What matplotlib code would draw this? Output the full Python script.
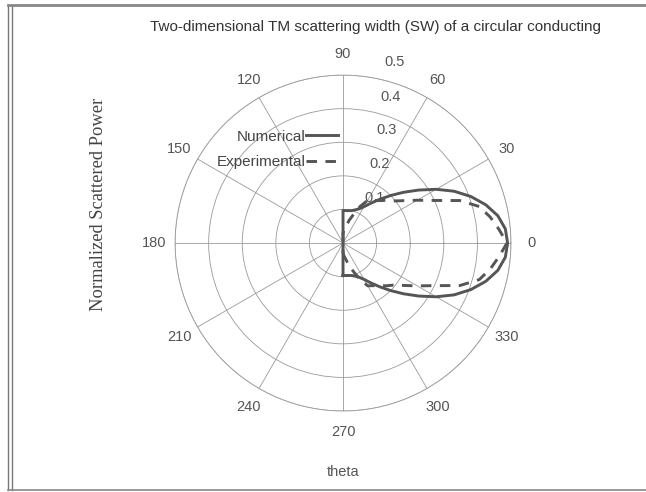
import numpy as np
import matplotlib
matplotlib.use("Agg")
import matplotlib.pyplot as plt
from matplotlib.lines import Line2D

# angles (deg) and normalized scattered power
theta_deg = [-90, -85, -80, -75, -70, -65, -60, -55, -50, -45, -40, -35, -30,
             -25, -20, -15, -10, -5, 0, 5, 10, 15, 20, 25, 30, 35, 40, 45,
             50, 55, 60, 65, 70, 75, 80, 85, 90]
numerical = [0.097, 0.097, 0.098, 0.100, 0.105, 0.112, 0.125, 0.145, 0.170,
             0.200, 0.235, 0.275, 0.320, 0.365, 0.405, 0.440, 0.468, 0.485,
             0.490, 0.485, 0.468, 0.440, 0.405, 0.365, 0.320, 0.275, 0.235,
             0.200, 0.170, 0.145, 0.125, 0.112, 0.105, 0.100, 0.098, 0.097,
             0.097]
experimental = [0.030, 0.040, 0.050, 0.070, 0.090, 0.120, 0.147, 0.155, 0.165,
                0.180, 0.195, 0.220, 0.255, 0.300, 0.370, 0.420, 0.445, 0.466,
                0.488, 0.466, 0.445, 0.420, 0.370, 0.300, 0.255, 0.220, 0.195,
                0.180, 0.165, 0.155, 0.147, 0.120, 0.090, 0.070, 0.050, 0.040,
                0.030]
r_ticks = [0.1, 0.2, 0.3, 0.4, 0.5]
angle_ticks = [0, 30, 60, 90, 120, 150, 180, 210, 240, 270, 300, 330]

# where the radial labels sit (theta deg, r) - layout only
r_label_pos = [(55, 0.164), (65, 0.259), (68.7, 0.36), (72, 0.458), (74, 0.56)]

grid_col = "#9a9a9a"
curve_col = "#555555"
text_col = "#555555"

fig = plt.figure(figsize=(6.46, 4.92), dpi=100)
ax = fig.add_axes([0.271, 0.1645, 0.52, 0.683], projection="polar")

th = np.deg2rad(theta_deg)
# close the curves back to the first point (passes through the origin)
th_c = np.append(th, th[0])
num_c = np.append(numerical, numerical[0])
exp_c = np.append(experimental, experimental[0])

ax.plot(th_c, num_c, color=curve_col, lw=2.1, label="Numerical",
        solid_joinstyle="round")
ax.plot(th_c, exp_c, color=curve_col, lw=2.1, dashes=(3.6, 2.9),
        label="Experimental")

ax.set_ylim(0, 0.5)
ax.set_yticks(r_ticks)
ax.set_yticklabels([])
ax.set_xticks(np.deg2rad(angle_ticks))
ax.set_xticklabels([])
ax.grid(True, color=grid_col, lw=0.6)
ax.spines["polar"].set_color(grid_col)
ax.spines["polar"].set_linewidth(0.6)
ax.tick_params(length=0)

# angle labels outside the outer ring
for a in angle_ticks:
    ax.text(np.deg2rad(a), 0.562, str(a), ha="center", va="center",
            fontsize=10.5, color=text_col, family="Liberation Sans")
# radial labels
for rv, (pa, pr) in zip(r_ticks, r_label_pos):
    ax.text(np.deg2rad(pa), pr, f"{rv:g}", ha="center", va="center",
            fontsize=10.5, color=text_col, family="Liberation Sans")

leg = ax.legend(loc="center right", bbox_to_anchor=(0.545, 0.696),
                bbox_transform=fig.transFigure, frameon=False,
                markerfirst=False, handlelength=2.1, handletextpad=0.05,
                labelspacing=0.75, prop={"family": "Liberation Sans", "size": 11})
for t in leg.get_texts():
    t.set_color("#444444")

fig.text(0.582, 0.945, "Two-dimensional TM scattering width (SW) of a circular conducting",
         ha="center", va="center", fontsize=11, color="#333333",
         family="Liberation Sans")
fig.text(0.531, 0.041, "theta", ha="center", va="center", fontsize=10.5,
         color=text_col, family="Liberation Sans")
fig.text(0.153, 0.585, "Normalized Scattered Power", rotation=90, ha="center",
         va="center", fontsize=13.3, color="#444444", family="Liberation Serif")

# scanned page frame
W, H = 646.0, 492.0
for x in (8, 11.5):
    fig.add_artist(Line2D([x / W, x / W], [1 - 5 / H, 1 - 490 / H],
                          color="#777777", lw=1.0, transform=fig.transFigure))
fig.add_artist(Line2D([8 / W, 1.0], [1 - 5 / H, 1 - 5 / H], color="#888888",
                      lw=2.0, transform=fig.transFigure))
fig.add_artist(Line2D([8 / W, 1.0], [1 - 490 / H, 1 - 490 / H],
                      color="#888888", lw=1.2, transform=fig.transFigure))

fig.savefig("out.png", dpi=100)
